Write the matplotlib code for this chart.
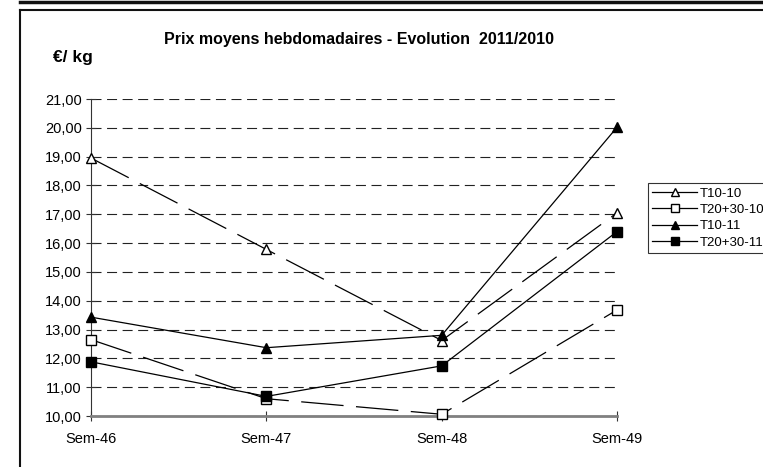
import matplotlib
matplotlib.use("Agg")
import matplotlib.pyplot as plt
from matplotlib.lines import Line2D

plt.rcParams['font.family'] = ['Liberation Sans', 'DejaVu Sans']

# === Données ===
semaines = ["Sem-46", "Sem-47", "Sem-48", "Sem-49"]
t10_10 = [18.95, 15.78, 12.62, 17.05]
t2030_10 = [12.65, 10.60, 10.06, 13.68]
t10_11 = [13.43, 12.37, 12.80, 20.02]
t2030_11 = [11.88, 10.68, 11.74, 16.40]
y_ticks = [10, 11, 12, 13, 14, 15, 16, 17, 18, 19, 20, 21]

fig = plt.figure(figsize=(7.63, 4.67), dpi=100)
ax = fig.add_axes([0.1193, 0.1092, 0.6894, 0.6788])

x = list(range(len(semaines)))
tirets = (34, 10)
ax.plot(x, t10_10, color='black', lw=0.9, dashes=tirets, clip_on=False,
        marker='^', ms=7, mfc='white', mec='black', label="T10-10", zorder=3)
ax.plot(x, t2030_10, color='black', lw=0.9, dashes=tirets, clip_on=False,
        marker='s', ms=7, mfc='white', mec='black', label="T20+30-10", zorder=3)
ax.plot(x, t10_11, color='black', lw=0.9, clip_on=False,
        marker='^', ms=7, mfc='black', mec='black', label="T10-11", zorder=4)
ax.plot(x, t2030_11, color='black', lw=0.9, clip_on=False,
        marker='s', ms=7, mfc='black', mec='black', label="T20+30-11", zorder=4)

ax.set_xlim(0, 3)
ax.set_ylim(10, 21)
ax.set_xticks(x)
ax.set_xticklabels(semaines, fontsize=10.5)
ax.set_yticks(y_ticks)
ax.set_yticklabels([f"{v:.2f}".replace('.', ',') for v in y_ticks], fontsize=10.5)
ax.tick_params(axis='both', direction='inout', length=7, width=0.8, color='#333333')
ax.tick_params(axis='x', pad=8)
ax.tick_params(axis='y', pad=3)

ax.yaxis.grid(True, color='#222222', lw=0.8, dashes=(9, 5))
ax.set_axisbelow(True)
for s in ['top', 'right']:
    ax.spines[s].set_visible(False)
ax.spines['left'].set_color('#333333')
ax.spines['bottom'].set_color('#808080')
ax.spines['bottom'].set_linewidth(2)

fig.text(0.47, 0.915, "Prix moyens hebdomadaires - Evolution  2011/2010",
         ha='center', va='center', fontsize=11.5, fontweight='bold')
fig.text(0.069, 0.877, "€/ kg", ha='left', va='center', fontsize=12.5, fontweight='bold')

# légende (tracés pleins)
handles = [
    Line2D([], [], color='black', lw=0.9, marker='^', ms=6, mfc='white', mec='black'),
    Line2D([], [], color='black', lw=0.9, marker='s', ms=6, mfc='white', mec='black'),
    Line2D([], [], color='black', lw=0.9, marker='^', ms=6, mfc='black', mec='black'),
    Line2D([], [], color='black', lw=0.9, marker='s', ms=6, mfc='black', mec='black'),
]
leg = fig.legend(handles, ["T10-10", "T20+30-10", "T10-11", "T20+30-11"],
                 loc='upper left', bbox_to_anchor=(0.849, 0.608),
                 fontsize=9.5, frameon=True, fancybox=False, borderpad=0.35,
                 handlelength=3.4, handletextpad=0.2, labelspacing=0.3,
                 borderaxespad=0)
leg.get_frame().set_edgecolor('black')
leg.get_frame().set_linewidth(0.8)

# cadres
fig.add_artist(Line2D([20/763, 1], [1 - 2/467, 1 - 2/467], color='#111111', lw=2.5))
fig.add_artist(Line2D([20/763, 20/763], [0, 1 - 10/467], color='#111111', lw=1.5))
fig.add_artist(Line2D([20/763, 1], [1 - 10/467, 1 - 10/467], color='#111111', lw=1.5))

fig.savefig("out.png", dpi=100)
